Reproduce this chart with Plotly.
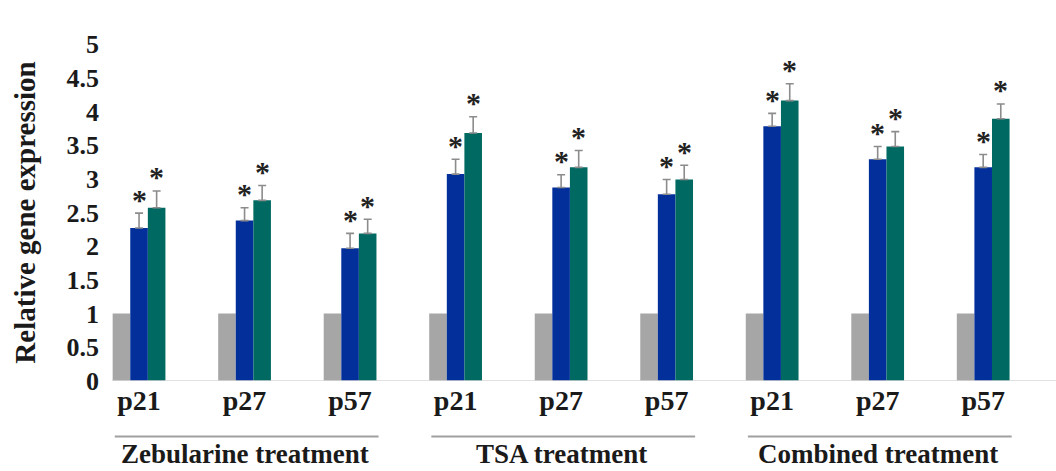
import plotly.graph_objects as go

# Genes measured under each treatment
treatments = ["Zebularine treatment", "TSA treatment", "Combined treatment"]
genes = ["p21", "p27", "p57"]

# Relative expression (control normalised to 1)
control = [1, 1, 1, 1, 1, 1, 1, 1, 1]
early = [2.27, 2.38, 1.97, 3.07, 2.87, 2.77, 3.78, 3.29, 3.17]
early_err = [0.22, 0.19, 0.22, 0.22, 0.19, 0.22, 0.19, 0.19, 0.19]
late = [2.57, 2.68, 2.19, 3.68, 3.17, 2.99, 4.16, 3.48, 3.89]
late_err = [0.25, 0.22, 0.21, 0.24, 0.25, 0.21, 0.25, 0.22, 0.22]

y_ticks = [0, 0.5, 1, 1.5, 2, 2.5, 3, 3.5, 4, 4.5, 5]
y_ticktext = ["0", "0.5", "1", "1.5", "2", "2.5", "3", "3.5", "4", "4.5", "5"]

labels = [g for _ in treatments for g in genes]
xs = list(range(len(labels)))

FONT = "Liberation Serif"
GRAY = "#A6A6A6"
BLUE = "#032F9B"
TEAL = "#006A62"
ERR = "#8C8C8C"


def upper_error(err):
    # one-sided (upward) error bars
    return dict(type="data", array=err, arrayminus=[0] * len(err), symmetric=False,
                visible=True, color=ERR, thickness=1.6, width=4)


fig = go.Figure()
fig.add_trace(go.Bar(x=xs, y=control, name="Control", marker=dict(color=GRAY, line_width=0)))
fig.add_trace(go.Bar(x=xs, y=early, name="Early", marker=dict(color=BLUE, line_width=0),
                     error_y=upper_error(early_err)))
fig.add_trace(go.Bar(x=xs, y=late, name="Late", marker=dict(color=TEAL, line_width=0),
                     error_y=upper_error(late_err)))

BAR_W = 1 / 6  # width of a single bar in category units (bargap 0.5, three bars)
star_font = dict(family=FONT, size=30, color="#222222", weight="bold")
for i in xs:
    for off, val, err in ((0.0, early[i], early_err[i]), (BAR_W, late[i], late_err[i])):
        fig.add_annotation(x=i + off, y=val + err, text="*", showarrow=False,
                           xref="x", yref="y", yanchor="middle", yshift=14, font=star_font)

# baseline
fig.add_shape(type="line", xref="x", yref="y", x0=-0.25, x1=8.69, y0=0, y1=0,
              line=dict(color="#D9D9D9", width=1.5))

# treatment brackets and labels
for k, name in enumerate(treatments):
    first, last = 3 * k, 3 * k + 2
    fig.add_shape(type="line", xref="x", yref="paper", x0=first - 0.23, x1=last + 0.27,
                  y0=-0.165, y1=-0.165, line=dict(color="#A0A0A0", width=2))
    fig.add_annotation(x=(first + last) / 2, y=-0.218, xref="x", yref="paper",
                       text=name, showarrow=False, yanchor="middle",
                       font=dict(family=FONT, size=27, color="#1a1a1a", weight="bold"))

fig.update_layout(
    width=1056, height=471,
    margin=dict(l=100, r=0, t=44, b=90),
    barmode="group", bargap=0.5, bargroupgap=0,
    showlegend=False,
    plot_bgcolor="white", paper_bgcolor="white",
    font=dict(family=FONT, size=27, color="#1a1a1a", weight="bold"),
)
fig.update_xaxes(
    range=[-0.37, 8.69], tickvals=xs, ticktext=labels, showgrid=False, zeroline=False,
    showline=False, ticks="", tickfont=dict(family=FONT, size=28, weight="bold"),
)
fig.update_yaxes(
    range=[0, 5], tickvals=y_ticks, ticktext=y_ticktext, showgrid=False, zeroline=False,
    showline=False, ticks="", tickfont=dict(family=FONT, size=26, weight="bold"),
    title=dict(text="Relative gene expression", standoff=22,
               font=dict(family=FONT, size=29, weight="bold")),
)

fig.write_html("out.html")
